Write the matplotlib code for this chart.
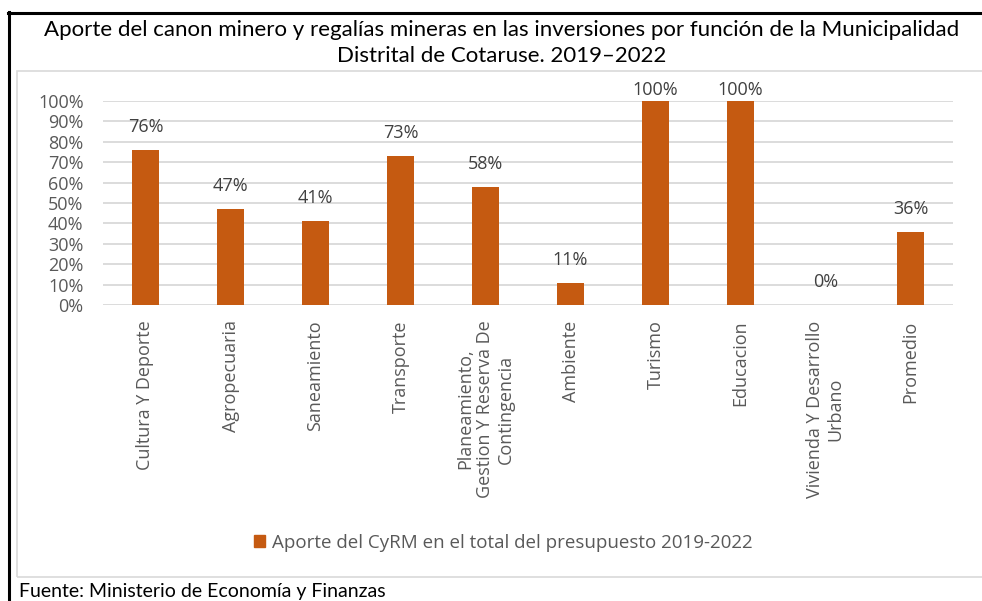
import matplotlib
matplotlib.use("Agg")
import matplotlib.pyplot as plt
from matplotlib.patches import Rectangle, Patch
from matplotlib.lines import Line2D

categories = ["Cultura Y Deporte", "Agropecuaria", "Saneamiento", "Transporte",
              "Planeamiento,\nGestion Y Reserva De\nContingencia", "Ambiente",
              "Turismo", "Educacion", "Vivienda Y Desarrollo\nUrbano", "Promedio"]
values = [0.76, 0.47, 0.41, 0.73, 0.58, 0.11, 1.00, 1.00, 0.00, 0.36]
yticks = [0.0, 0.1, 0.2, 0.3, 0.4, 0.5, 0.6, 0.7, 0.8, 0.9, 1.0]
ytick_labels = ["0%", "10%", "20%", "30%", "40%", "50%", "60%", "70%", "80%", "90%", "100%"]
series_name = "Aporte del CyRM en el total del presupuesto 2019-2022"
title = "Aporte del canon minero y regalías mineras en las inversiones por función de la Municipalidad\nDistrital de Cotaruse. 2019\u20132022"
source = "Fuente: Ministerio de Economía y Finanzas"

W, H = 982, 601
BAR = "#C55A11"
GRID = "#D9D9D9"
TXT = "#595959"
LBL = "#404040"
tick_font = "Open Sans"
title_font = "Lato"

fig = plt.figure(figsize=(W / 100, H / 100), dpi=100)

def fx(px):
    return px / W

def fy(py):
    return 1 - py / H

# frames
fig.add_artist(Line2D([fx(9), fx(9)], [fy(12), fy(601)], color="black", lw=2.2, transform=fig.transFigure))
fig.add_artist(Line2D([fx(8), fx(982)], [fy(13), fy(13)], color="black", lw=2.2, transform=fig.transFigure))
fig.add_artist(Rectangle((fx(17), fy(577)), fx(990) - fx(17), fy(71) - fy(577), transform=fig.transFigure,
                         fill=False, edgecolor=GRID, lw=1.2))

ax = fig.add_axes([fx(103), fy(305), fx(953) - fx(103), fy(101) - fy(305)])
x = list(range(len(categories)))
ax.bar(x, values, width=0.31, color=BAR, zorder=3)
ax.set_xlim(-0.5, len(categories) - 0.5)
ax.set_ylim(0, 1)
ax.set_yticks(yticks)
ax.set_yticklabels(ytick_labels, fontsize=13, color=TXT, family=tick_font)
ax.set_xticks(x)
ax.set_xticklabels(categories, rotation=90, fontsize=13, color=TXT, family=tick_font,
                   ha="center", va="top", multialignment="center", linespacing=1.15)
ax.tick_params(axis="y", length=0, pad=14)
ax.tick_params(axis="x", length=0, pad=11)
for s in ax.spines.values():
    s.set_visible(False)
ax.grid(axis="y", color=GRID, lw=1.3, zorder=0)
ax.set_axisbelow(True)

for xi, v in zip(x, values):
    off = 11 if v > 0.95 else 23
    ax.annotate(f"{v*100:.0f}%", (xi, v), xytext=(0, off * 0.72), textcoords="offset points",
                ha="center", va="center", fontsize=13, color=LBL, family=tick_font,
                annotation_clip=False)

fig.text(fx(502), fy(43), title, ha="center", va="center", fontsize=16, color="black",
         family=title_font, linespacing=1.4)

handle = Patch(facecolor=BAR, edgecolor=BAR)
fig.legend([handle], [series_name], loc="center", bbox_to_anchor=(fx(503), fy(543)),
           frameon=False, prop={"family": tick_font, "size": 13.5}, labelcolor=TXT,
           handlelength=0.62, handleheight=0.62, handletextpad=0.35)

fig.text(fx(19), fy(592), source, ha="left", va="center", fontsize=14, color="black", family=title_font)

fig.savefig("out.png", dpi=100)
